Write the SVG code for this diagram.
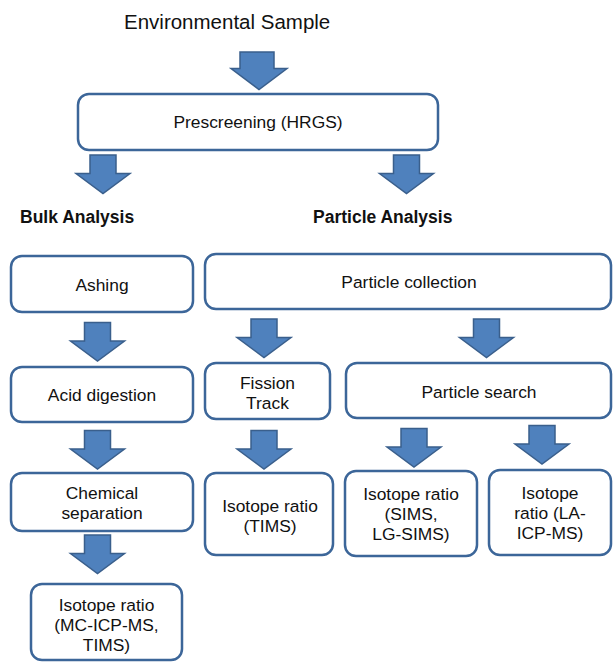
<svg xmlns="http://www.w3.org/2000/svg" xmlns:xlink="http://www.w3.org/1999/xlink" width="613" height="662" viewBox="0 0 613 662">
<style>
.box{fill:#ffffff;stroke:#3C6699;stroke-width:2.5}
.arr{fill:#4F81BD;stroke:#3A5F8C;stroke-width:1.5;stroke-linejoin:miter}
.t{font-family:"Liberation Sans",Arial,sans-serif;font-size:17.4px;fill:#111;text-anchor:middle}
.h{font-family:"Liberation Sans",Arial,sans-serif;font-size:17.5px;font-weight:bold;fill:#111}
</style>
<defs>
<path id="arrow" d="M-13,0 H13 V18.5 H27 L0,38.5 L-27,18.5 H-13 Z"/>
</defs>
<rect width="613" height="662" fill="#ffffff"/>
<text x="124" y="29" font-family="'Liberation Sans',Arial,sans-serif" font-size="20.5" fill="#111">Environmental Sample</text>
<text class="h" x="20" y="223">Bulk Analysis</text>
<text class="h" x="313" y="223">Particle Analysis</text>
<g id="connectors">
<path class="arr" d="M240,52 H274 V68.5 H287 L259,89.5 L231,68.5 H240 Z"/>
<use class="arr" xlink:href="#arrow" href="#arrow" x="103" y="155"/>
<use class="arr" xlink:href="#arrow" href="#arrow" x="406.5" y="155"/>
<use class="arr" xlink:href="#arrow" href="#arrow" x="97.5" y="322.5"/>
<use class="arr" xlink:href="#arrow" href="#arrow" x="97.5" y="430.5"/>
<use class="arr" xlink:href="#arrow" href="#arrow" x="97.5" y="535"/>
<use class="arr" xlink:href="#arrow" href="#arrow" x="264" y="319"/>
<use class="arr" xlink:href="#arrow" href="#arrow" x="486.5" y="319"/>
<use class="arr" xlink:href="#arrow" href="#arrow" x="264" y="430.5"/>
<use class="arr" xlink:href="#arrow" href="#arrow" x="414" y="428.5"/>
<use class="arr" xlink:href="#arrow" href="#arrow" x="542" y="425.5"/>
</g>
<g id="prescreening"><rect class="box" x="78" y="94" width="360" height="56" rx="11"/><text class="t" x="258" y="128">Prescreening (HRGS)</text></g>
<g id="ashing"><rect class="box" x="11" y="256" width="182" height="56" rx="11"/><text class="t" x="102" y="291">Ashing</text></g>
<g id="acid"><rect class="box" x="11" y="367" width="182" height="55" rx="11"/><text class="t" x="102" y="401">Acid digestion</text></g>
<g id="chem"><rect class="box" x="11" y="473" width="182" height="58" rx="11"/><text class="t" x="102" y="499">Chemical</text><text class="t" x="102" y="519">separation</text></g>
<g id="iso-mc"><rect class="box" x="31" y="584" width="151" height="76" rx="11"/><text class="t" x="106.5" y="611">Isotope ratio</text><text class="t" x="106.5" y="631">(MC-ICP-MS,</text><text class="t" x="106.5" y="651">TIMS)</text></g>
<g id="particle-collection"><rect class="box" x="205" y="254" width="406" height="55" rx="11"/><text class="t" x="409" y="288">Particle collection</text></g>
<g id="fission"><rect class="box" x="205" y="363" width="125" height="56" rx="11"/><text class="t" x="267.5" y="389">Fission</text><text class="t" x="267.5" y="409">Track</text></g>
<g id="particle-search"><rect class="box" x="346" y="363" width="265" height="55" rx="11"/><text class="t" x="479" y="398">Particle search</text></g>
<g id="iso-tims"><rect class="box" x="205" y="473" width="128" height="82" rx="11"/><text class="t" x="270" y="512">Isotope ratio</text><text class="t" x="270" y="532">(TIMS)</text></g>
<g id="iso-sims"><rect class="box" x="345" y="471" width="132" height="85" rx="11"/><text class="t" x="411" y="500">Isotope ratio</text><text class="t" x="411" y="520">(SIMS,</text><text class="t" x="411" y="540">LG-SIMS)</text></g>
<g id="iso-la"><rect class="box" x="489" y="470" width="122" height="85" rx="11"/><text class="t" x="550" y="499">Isotope</text><text class="t" x="550" y="519">ratio (LA-</text><text class="t" x="550" y="539">ICP-MS)</text></g>
</svg>
